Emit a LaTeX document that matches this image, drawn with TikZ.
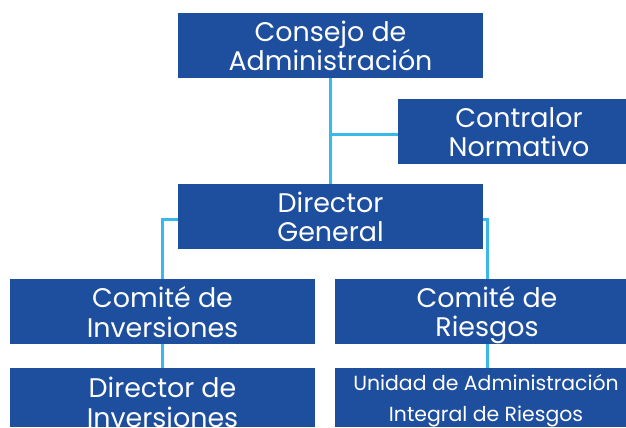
\documentclass[tikz,border=0pt]{standalone}
\usepackage{fontspec}
\setmainfont{Poppins}
\definecolor{boxblue}{HTML}{1E4F9F}
\definecolor{linkblue}{HTML}{3BB8EA}
\begin{document}
\begin{tikzpicture}[x=1bp,y=-1bp,
  orgbox/.style={text=white,inner sep=0pt,align=center,font=\fontsize{27}{29.5}\selectfont},
  boxfill/.style={fill=boxblue},
  link/.style={draw=linkblue,line width=3bp}]
\useasboundingbox (0,0) rectangle (626,427);
% boxes
\path[boxfill] (178,13) rectangle (483,78);
\node[orgbox] (consejo) at (330.5,46) {Consejo de\\Administración};
\path[boxfill] (398,99) rectangle (626,164);
\node[orgbox] (contralor) at (519,132) {Contralor\\Normativo};
\path[boxfill] (178,184) rectangle (483,249);
\node[orgbox] (dg) at (330.5,217) {Director\\General};
\path[boxfill] (10,279) rectangle (315,344);
\node[orgbox] (ci) at (162.5,312) {Comité de\\Inversiones};
\path[boxfill] (335,279) rectangle (626,344);
\node[orgbox] (cr) at (487,315) {Comité de\\Riesgos};
\path[boxfill] (10,368) rectangle (315,427);
\node[orgbox,anchor=north] (di) at (162.5,377) {Director de\\Inversiones};
\path[boxfill] (335,368) rectangle (626,427);
\node[orgbox,anchor=north,font=\fontsize{20.5}{31}\selectfont] (uair) at (486,374) {Unidad de Administración\\Integral de Riesgos};
% connectors
\coordinate (c1) at (330,78);
\coordinate (c2) at (330,184);
\coordinate (br) at (330,134);
\coordinate (crl) at (398,134);
\draw[link] (c1) -- (c2);
\draw[link] (br) -- (crl);
\coordinate (dgl) at (178,219);
\coordinate (dgr) at (483,219);
\coordinate (cit) at (162,279);
\coordinate (crt) at (487,279);
\draw[link] (dgl) -| (cit);
\draw[link] (dgr) -| (crt);
\coordinate (cib) at (162,344);
\coordinate (dit) at (162,368);
\coordinate (crb) at (487,344);
\coordinate (ut) at (487,368);
\draw[link] (cib) -- (dit);
\draw[link] (crb) -- (ut);
\end{tikzpicture}
\end{document}
